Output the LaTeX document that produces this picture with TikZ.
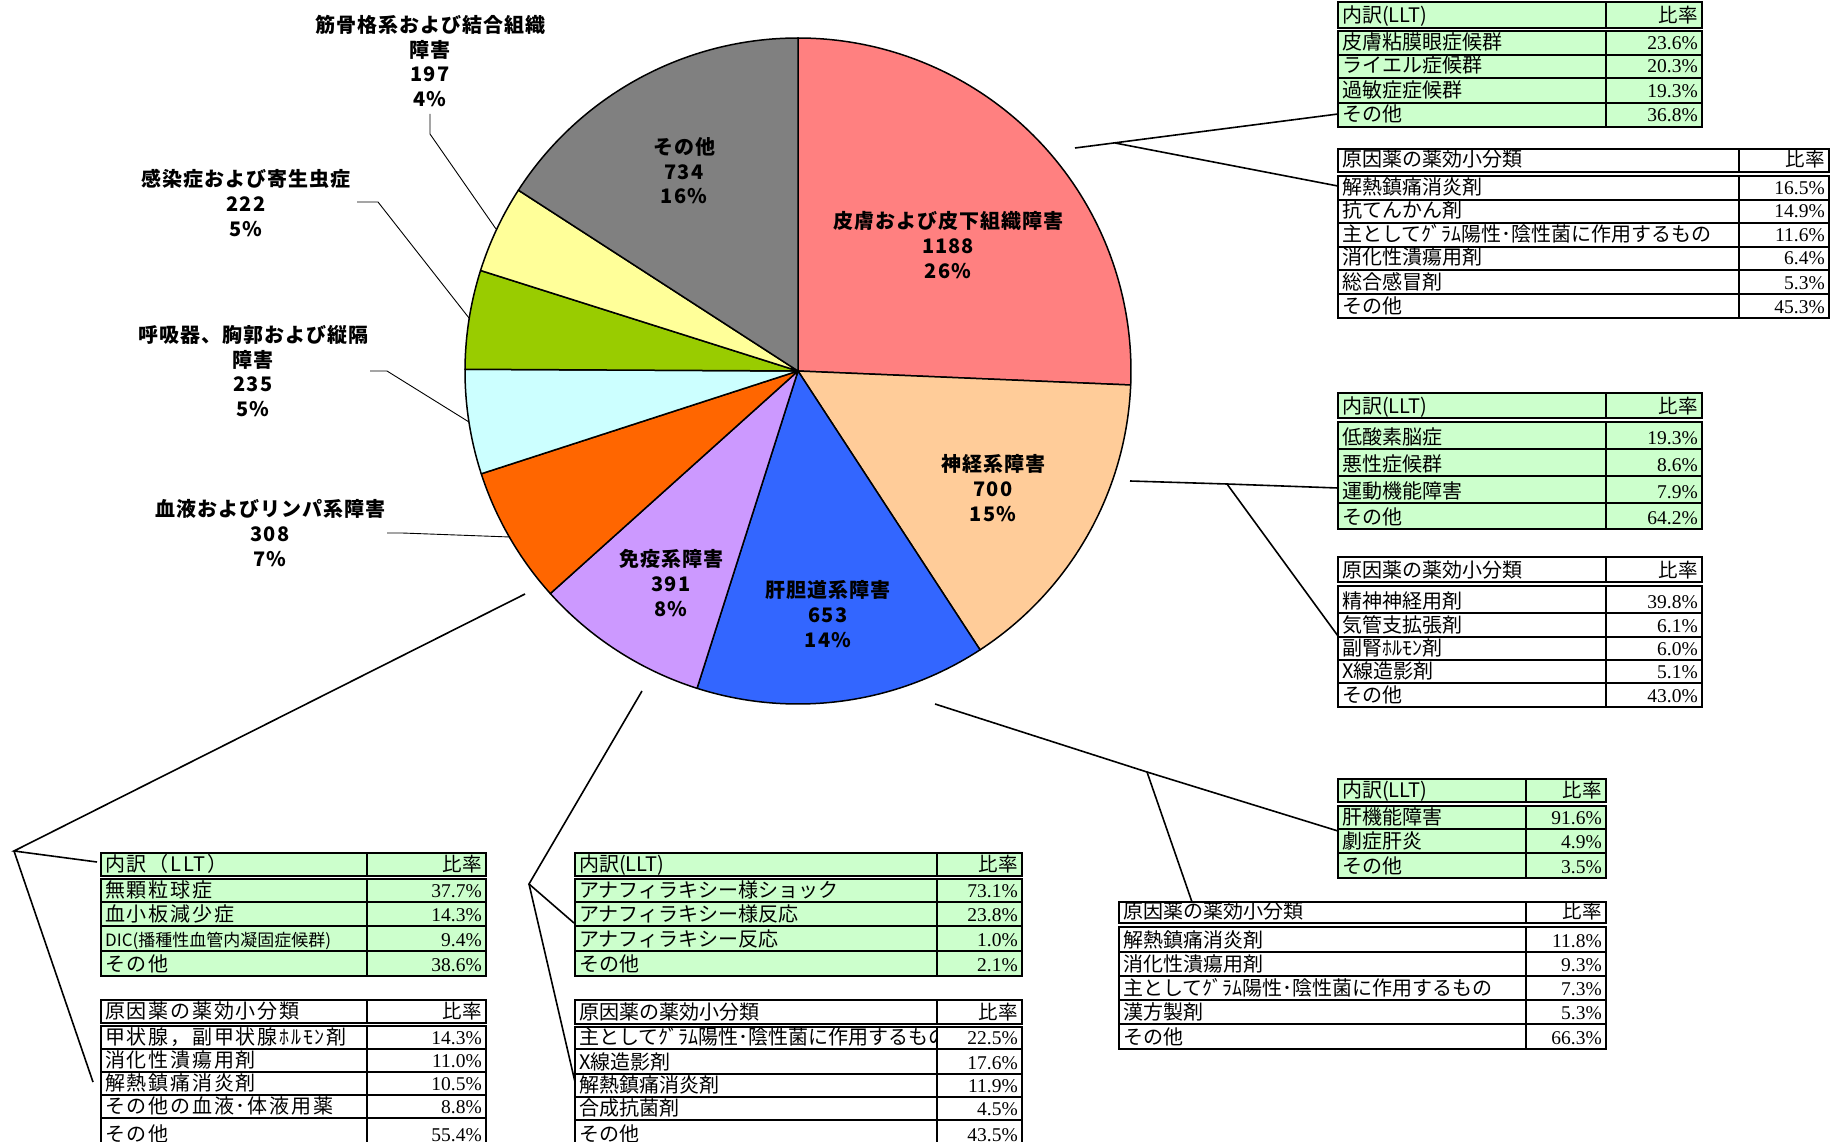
\documentclass[tikz,border=0pt]{standalone}
\usepackage{fontspec}
\setmainfont{Liberation Serif}
\newfontfamily\jp{Noto Sans CJK JP}
\newfontfamily\jpl{Noto Sans CJK JP}[LetterSpace=5]
\newfontfamily\jpw{Noto Sans CJK JP}[LetterSpace=9]
\definecolor{cskin}{HTML}{FF8080}
\definecolor{cneuro}{HTML}{FFCC99}
\definecolor{cliver}{HTML}{3366FF}
\definecolor{cimm}{HTML}{CC99FF}
\definecolor{cblood}{HTML}{FF6600}
\definecolor{cresp}{HTML}{CCFFFF}
\definecolor{cinf}{HTML}{99CC00}
\definecolor{cmsk}{HTML}{FFFF99}
\definecolor{coth}{HTML}{808080}
\definecolor{tgreen}{HTML}{CCFFCC}
\tikzset{
  slice/.style={draw=black, line width=1.5pt, line join=round},
  plabel/.style={font=\jpl\bfseries\fontsize{20}{24.6}\selectfont, align=center, inner sep=0pt},
  leader/.style={draw=black, line width=0.9pt},
  callout/.style={draw=black, line width=1.6pt},
  tline/.style={draw=black, line width=2pt},
  cellL/.style={font=\jp\fontsize{20}{22}\selectfont, anchor=base west, inner sep=0pt},
  cellR/.style={font=\fontsize{19.5}{22}\selectfont, anchor=base east, inner sep=0pt},
}
% name, fill, left, divider, right, top, bottom, label, value
\newcommand\cellrow[9]{%
  \filldraw[tline, fill=#2] (#3,#6) rectangle (#5,#7);
  \draw[tline] (#4,#6) -- (#4,#7);
  \begin{scope}
    \clip (#3,#6) rectangle (#4,#7);
    \node[cellL] (#1-l) at ({#3+4},{#7-5}) {#8};
  \end{scope}
  \node[cellR] (#1-v) at ({#5-4},{#7-5}) {#9};
}
\newcommand\pieslice[3]{%
  \filldraw[slice, fill=#3] (pc) -- ({798+333*cos(#1)},{371-333*sin(#1)})
    arc[start angle=#1, end angle=#2, radius=333pt] -- cycle;
}
\begin{document}
\begin{tikzpicture}[x=1pt,y=-1pt]
\useasboundingbox (0,0) rectangle (1840,1142);
\fill[white] (0,0) rectangle (1840,1142);
\clip (0,0) rectangle (1840,1142);

% ---------------- pie ----------------
\coordinate (pc) at (798,371);
\pieslice{90}{-2.41}{cskin}
\pieslice{-2.41}{-56.86}{cneuro}
\pieslice{-56.86}{-107.65}{cliver}
\pieslice{-107.65}{-138.06}{cimm}
\pieslice{-138.06}{-162.02}{cblood}
\pieslice{-162.02}{-180.30}{cresp}
\pieslice{-180.30}{-197.57}{cinf}
\pieslice{-197.57}{-212.89}{cmsk}
\pieslice{-212.89}{-270}{coth}

\node[plabel] (lskin) at (948,245) {皮膚および皮下組織障害\\1188\\26\%};
\node[plabel] (loth) at (684,171) {その他\\734\\16\%};
\node[plabel] (lneuro) at (993,488) {神経系障害\\700\\15\%};
\node[plabel] (lliver) at (828,614) {肝胆道系障害\\653\\14\%};
\node[plabel] (limm) at (671,583) {免疫系障害\\391\\8\%};
\node[plabel] (lmsk) at (430,61) {筋骨格系および結合組織\\障害\\197\\4\%};
\node[plabel] (linf) at (246,203) {感染症および寄生虫症\\222\\5\%};
\node[plabel] (lresp) at (253,371) {呼吸器、胸郭および縦隔\\障害\\235\\5\%};
\node[plabel] (lblood) at (270,533) {血液およびリンパ系障害\\308\\7\%};

% leader lines
\coordinate (m1) at (430,114); \coordinate (m2) at (430,134); \coordinate (m3) at (496,229);
\draw[leader] (m1) -- (m2) -- (m3);
\coordinate (i1) at (357,202); \coordinate (i2) at (378,202); \coordinate (i3) at (469,318);
\draw[leader] (i1) -- (i2) -- (i3);
\coordinate (r1) at (370,371); \coordinate (r2) at (387,371); \coordinate (r3) at (469,422);
\draw[leader] (r1) -- (r2) -- (r3);
\coordinate (b1) at (387,533); \coordinate (b2) at (402,533); \coordinate (b3) at (510,537);
\draw[leader] (b1) -- (b2) -- (b3);

% callout lines
\coordinate (s0) at (1075,148); \coordinate (s1) at (1338,114);
\coordinate (s2) at (1115,143); \coordinate (s3) at (1343,187);
\draw[callout] (s0) -- (s1);
\draw[callout] (s2) -- (s3);
\coordinate (n0) at (1130,481); \coordinate (n1) at (1227,484);
\coordinate (n2) at (1338,488); \coordinate (n3) at (1338,636);
\draw[callout] (n0) -- (n1) -- (n2);
\draw[callout] (n1) -- (n3);
\coordinate (v0) at (935,704); \coordinate (v1) at (1147,772);
\coordinate (v2) at (1338,831); \coordinate (v3) at (1192,902);
\draw[callout] (v0) -- (v1) -- (v2);
\draw[callout] (v1) -- (v3);
\coordinate (e0) at (642,691); \coordinate (e1) at (529,884);
\coordinate (e2) at (574,923); \coordinate (e3) at (575,1082);
\draw[callout] (e0) -- (e1) -- (e2);
\draw[callout] (e1) -- (e3);
\coordinate (k0) at (525,594); \coordinate (k1) at (14,851);
\coordinate (k2) at (97,862); \coordinate (k3) at (93,1082);
\draw[callout] (k0) -- (k1) -- (k2);
\draw[callout] (k1) -- (k3);

% ---------------- tables ----------------
% T1 skin LLT
\cellrow{t1h}{tgreen}{1338}{1606}{1702}{2}{28}{内訳(LLT)}{\jp 比率}
\cellrow{t1a}{tgreen}{1338}{1606}{1702}{31}{55}{皮膚粘膜眼症候群}{23.6\%}
\cellrow{t1b}{tgreen}{1338}{1606}{1702}{55}{78}{ライエル症候群}{20.3\%}
\cellrow{t1c}{tgreen}{1338}{1606}{1702}{78}{103}{過敏症症候群}{19.3\%}
\cellrow{t1d}{tgreen}{1338}{1606}{1702}{103}{127}{その他}{36.8\%}
% T2 skin drugs
\cellrow{t2h}{white}{1338}{1739}{1829}{149}{172}{原因薬の薬効小分類}{\jp 比率}
\cellrow{t2a}{white}{1338}{1739}{1829}{176}{200}{解熱鎮痛消炎剤}{16.5\%}
\cellrow{t2b}{white}{1338}{1739}{1829}{200}{223}{抗てんかん剤}{14.9\%}
\cellrow{t2c}{white}{1338}{1739}{1829}{223}{247}{主としてｸﾞﾗﾑ陽性･陰性菌に作用するもの}{11.6\%}
\cellrow{t2d}{white}{1338}{1739}{1829}{247}{270}{消化性潰瘍用剤}{6.4\%}
\cellrow{t2e}{white}{1338}{1739}{1829}{270}{294}{総合感冒剤}{5.3\%}
\cellrow{t2f}{white}{1338}{1739}{1829}{294}{318}{その他}{45.3\%}
% T3 neuro LLT
\cellrow{t3h}{tgreen}{1338}{1606}{1702}{393}{418}{内訳(LLT)}{\jp 比率}
\cellrow{t3a}{tgreen}{1338}{1606}{1702}{422}{449}{低酸素脳症}{19.3\%}
\cellrow{t3b}{tgreen}{1338}{1606}{1702}{449}{476}{悪性症候群}{8.6\%}
\cellrow{t3c}{tgreen}{1338}{1606}{1702}{476}{503}{運動機能障害}{7.9\%}
\cellrow{t3d}{tgreen}{1338}{1606}{1702}{503}{529}{その他}{64.2\%}
% T4 neuro drugs
\cellrow{t4h}{white}{1338}{1606}{1702}{557}{582}{原因薬の薬効小分類}{\jp 比率}
\cellrow{t4a}{white}{1338}{1606}{1702}{586}{613}{精神神経用剤}{39.8\%}
\cellrow{t4b}{white}{1338}{1606}{1702}{613}{637}{気管支拡張剤}{6.1\%}
\cellrow{t4c}{white}{1338}{1606}{1702}{637}{660}{副腎ﾎﾙﾓﾝ剤}{6.0\%}
\cellrow{t4d}{white}{1338}{1606}{1702}{660}{683}{X線造影剤}{5.1\%}
\cellrow{t4e}{white}{1338}{1606}{1702}{683}{707}{その他}{43.0\%}
% T5 liver LLT
\cellrow{t5h}{tgreen}{1338}{1526}{1606}{779}{802}{内訳(LLT)}{\jp 比率}
\cellrow{t5a}{tgreen}{1338}{1526}{1606}{806}{829}{肝機能障害}{91.6\%}
\cellrow{t5b}{tgreen}{1338}{1526}{1606}{829}{853}{劇症肝炎}{4.9\%}
\cellrow{t5c}{tgreen}{1338}{1526}{1606}{853}{878}{その他}{3.5\%}
% T6 liver drugs
\cellrow{t6h}{white}{1119}{1526}{1606}{902}{923}{原因薬の薬効小分類}{\jp 比率}
\cellrow{t6a}{white}{1119}{1526}{1606}{927}{952}{解熱鎮痛消炎剤}{11.8\%}
\cellrow{t6b}{white}{1119}{1526}{1606}{952}{976}{消化性潰瘍用剤}{9.3\%}
\cellrow{t6c}{white}{1119}{1526}{1606}{976}{1000}{主としてｸﾞﾗﾑ陽性･陰性菌に作用するもの}{7.3\%}
\cellrow{t6d}{white}{1119}{1526}{1606}{1000}{1024}{漢方製剤}{5.3\%}
\cellrow{t6e}{white}{1119}{1526}{1606}{1024}{1049}{その他}{66.3\%}
% T7 blood LLT
\cellrow{t7h}{tgreen}{101}{367}{486}{853}{876}{\jpw 内訳（LLT）}{\jp 比率}
\cellrow{t7a}{tgreen}{101}{367}{486}{879}{902}{\jpw 無顆粒球症}{37.7\%}
\cellrow{t7b}{tgreen}{101}{367}{486}{902}{926}{\jpw 血小板減少症}{14.3\%}
\cellrow{t7c}{tgreen}{101}{367}{486}{926}{951}{\fontsize{17}{20}\selectfont DIC(播種性血管内凝固症候群)}{9.4\%}
\cellrow{t7d}{tgreen}{101}{367}{486}{951}{976}{\jpw その他}{38.6\%}
% T8 blood drugs
\cellrow{t8h}{white}{101}{367}{486}{1000}{1023}{\jpw 原因薬の薬効小分類}{\jp 比率}
\cellrow{t8a}{white}{101}{367}{486}{1026}{1049}{\jpw 甲状腺，副甲状腺ﾎﾙﾓﾝ剤}{14.3\%}
\cellrow{t8b}{white}{101}{367}{486}{1049}{1072}{\jpw 消化性潰瘍用剤}{11.0\%}
\cellrow{t8c}{white}{101}{367}{486}{1072}{1095}{\jpw 解熱鎮痛消炎剤}{10.5\%}
\cellrow{t8d}{white}{101}{367}{486}{1095}{1118}{\jpw その他の血液･体液用薬}{8.8\%}
\cellrow{t8e}{white}{101}{367}{486}{1118}{1146}{\jpw その他}{55.4\%}
% T9 immune LLT
\cellrow{t9h}{tgreen}{575}{937}{1022}{853}{876}{内訳(LLT)}{\jp 比率}
\cellrow{t9a}{tgreen}{575}{937}{1022}{879}{902}{アナフィラキシー様ショック}{73.1\%}
\cellrow{t9b}{tgreen}{575}{937}{1022}{902}{926}{アナフィラキシー様反応}{23.8\%}
\cellrow{t9c}{tgreen}{575}{937}{1022}{926}{951}{アナフィラキシー反応}{1.0\%}
\cellrow{t9d}{tgreen}{575}{937}{1022}{951}{976}{その他}{2.1\%}
% T10 immune drugs
\cellrow{t10h}{white}{575}{937}{1022}{1000}{1024}{原因薬の薬効小分類}{\jp 比率}
\cellrow{t10a}{white}{575}{937}{1022}{1027}{1049}{主としてｸﾞﾗﾑ陽性･陰性菌に作用するもの}{22.5\%}
\cellrow{t10b}{white}{575}{937}{1022}{1049}{1074}{X線造影剤}{17.6\%}
\cellrow{t10c}{white}{575}{937}{1022}{1074}{1097}{解熱鎮痛消炎剤}{11.9\%}
\cellrow{t10d}{white}{575}{937}{1022}{1097}{1120}{合成抗菌剤}{4.5\%}
\cellrow{t10e}{white}{575}{937}{1022}{1120}{1146}{その他}{43.5\%}
\end{tikzpicture}
\end{document}
